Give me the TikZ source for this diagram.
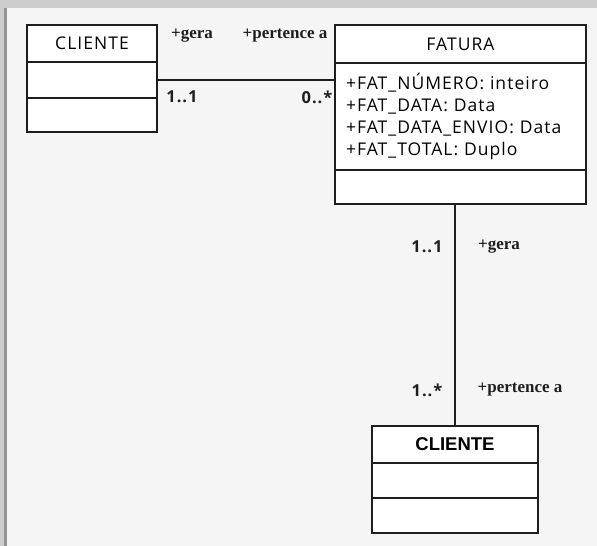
\documentclass[tikz,border=0pt]{standalone}
\usepackage{fontspec}
\setmainfont[LetterSpace=6]{Open Sans}
\newfontfamily\rolefont{Liberation Serif}
\newfontfamily\arialfont{Liberation Sans}
\definecolor{umlbg}{RGB}{245,245,245}
\definecolor{umlframe}{RGB}{205,205,205}
\definecolor{umledge}{RGB}{150,150,150}
\definecolor{umlline}{RGB}{30,30,30}
\tikzset{
  umlbox/.style={draw=umlline, fill=white, line width=2.3pt, rectangle, inner sep=0pt},
  rolelabel/.style={font=\rolefont\bfseries\fontsize{17}{19}\selectfont, text=umlline},
  multlabel/.style={font=\bfseries\fontsize{16.5}{18}\selectfont, text=umlline},
}
\begin{document}
\begin{tikzpicture}[x=1pt, y=-1pt]
    % background and frame
    \fill[umlbg] (0,0) rectangle (597,546);
    \fill[umlframe] (0,0) rectangle (597,8);
    \fill[umlframe] (0,0) rectangle (4,546);
    \fill[umledge] (4,8) rectangle (7,546);
    \useasboundingbox (0,0) rectangle (597,546);

    % CLIENTE (left)
    \node[umlbox, minimum width=130pt, minimum height=37pt, font=\fontsize{17.5}{18}\selectfont] (cliA) at (92,43.5) {CLIENTE};
    \node[umlbox, minimum width=130pt, minimum height=36pt] (cliA2) at (92,80) {};
    \node[umlbox, minimum width=130pt, minimum height=34pt] (cliA3) at (92,115) {};

    % FATURA
    \node[umlbox, minimum width=251pt, minimum height=38pt, font=\fontsize{17.5}{18}\selectfont] (fat) at (460.5,44) {FATURA};
    \node[umlbox, minimum width=251pt, minimum height=107pt, text width=229pt, align=left,
          font=\fontsize{17.5}{22}\selectfont] (fat2) at (460.5,116.5)
        {+FAT\_NÚMERO: inteiro\\+FAT\_DATA: Data\\+FAT\_DATA\_ENVIO: Data\\+FAT\_TOTAL: Duplo};
    \node[umlbox, minimum width=251pt, minimum height=34pt] (fat3) at (460.5,187) {};

    % CLIENTE (bottom)
    \node[umlbox, minimum width=166pt, minimum height=37pt, font=\arialfont\bfseries\fontsize{18.5}{20}\selectfont] (cliB) at (455,444.5) {CLIENTE};
    \node[umlbox, minimum width=166pt, minimum height=35pt] (cliB2) at (455,480.5) {};
    \node[umlbox, minimum width=166pt, minimum height=35pt] (cliB3) at (455,515.5) {};

    % associations
    \draw[umlline, line width=2.3pt] (cliA2.east) -- (cliA2.east -| fat2.west);
    \draw[umlline, line width=2.3pt] (cliB.north |- fat3.south) -- (cliB.north);

    % roles and multiplicities
    \node[rolelabel] (r1) at (192,36) {+gera};
    \node[rolelabel] (r2) at (285,36) {+pertence a};
    \node[multlabel] (m1) at (182,97) {1..1};
    \node[multlabel] (m2) at (317,97) {0..*};
    \node[multlabel] (m3) at (427,247) {1..1};
    \node[rolelabel] (r3) at (499,247) {+gera};
    \node[multlabel] (m4) at (427,390) {1..*};
    \node[rolelabel] (r4) at (520,390) {+pertence a};
\end{tikzpicture}
\end{document}
